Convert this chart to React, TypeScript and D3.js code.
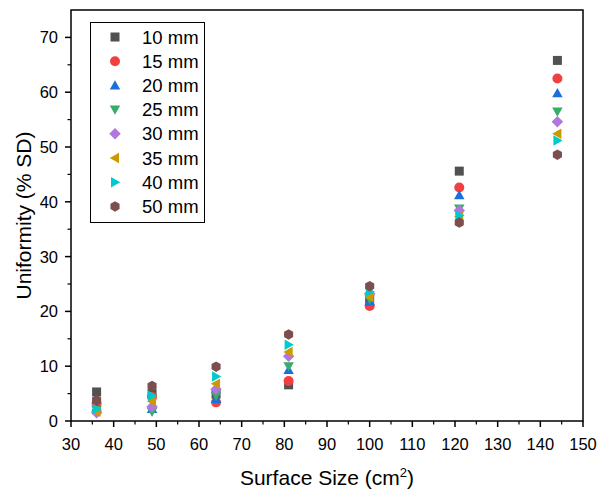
import React from "react";
import * as d3 from "d3";

const surfaceSizes = [36, 49, 64, 81, 100, 121, 144];
const seriesNames = ["10 mm", "15 mm", "20 mm", "25 mm", "30 mm", "35 mm", "40 mm", "50 mm"];
const s10 = [5.3, 5.0, 4.9, 6.6, 22.0, 45.6, 65.8];
const s15 = [3.2, 4.4, 3.4, 7.3, 21.0, 42.6, 62.5];
const s20 = [2.5, 2.2, 4.0, 9.3, 21.8, 41.2, 59.8];
const s25 = [2.0, 1.7, 4.6, 10.0, 22.2, 38.8, 56.5];
const s30 = [1.5, 2.6, 5.8, 11.8, 23.2, 38.4, 54.6];
const s35 = [1.7, 3.6, 6.8, 12.6, 22.6, 37.3, 52.4];
const s40 = [2.2, 4.6, 8.1, 13.9, 23.6, 37.5, 51.2];
const s50 = [3.8, 6.4, 9.9, 15.8, 24.6, 36.2, 48.6];
const seriesValues = [s10, s15, s20, s25, s30, s35, s40, s50];
const colors = ["#515151", "#F14040", "#1A6FDF", "#37AD6B", "#B177DE", "#CC9900", "#00CBCC", "#7D4E4E"];
const xTicks = [30, 40, 50, 60, 70, 80, 90, 100, 110, 120, 130, 140, 150];
const yTicks = [0, 10, 20, 30, 40, 50, 60, 70];

function markerPath(i: number, r: number): string {
  const pts = (arr: [number, number][]) => "M" + arr.map((p) => p.join(",")).join("L") + "Z";
  switch (i) {
    case 0:
      return pts([[-r * 0.9, -r * 0.9], [r * 0.9, -r * 0.9], [r * 0.9, r * 0.9], [-r * 0.9, r * 0.9]]);
    case 1:
      return d3.symbol(d3.symbolCircle, Math.PI * r * r)()!;
    case 2:
      return pts([[0, -r * 1.05], [r * 1.05, r * 0.8], [-r * 1.05, r * 0.8]]);
    case 3:
      return pts([[0, r * 1.05], [r * 1.05, -r * 0.8], [-r * 1.05, -r * 0.8]]);
    case 4:
      return pts([[0, -r * 1.15], [r * 1.15, 0], [0, r * 1.15], [-r * 1.15, 0]]);
    case 5:
      return pts([[-r * 1.05, 0], [r * 0.8, -r * 1.05], [r * 0.8, r * 1.05]]);
    case 6:
      return pts([[r * 1.05, 0], [-r * 0.8, -r * 1.05], [-r * 0.8, r * 1.05]]);
    default: {
      const a: [number, number][] = [];
      for (let k = 0; k < 6; k++) {
        const ang = (Math.PI / 3) * k + Math.PI / 6;
        a.push([r * 1.05 * Math.cos(ang), r * 1.05 * Math.sin(ang)]);
      }
      return pts(a);
    }
  }
}

export default function App() {
  const W = 597, H = 492;
  const left = 71, right = 583, top = 10, bottom = 421;
  const x = d3.scaleLinear().domain([30, 150]).range([left, right]);
  const y = d3.scaleLinear().domain([0, 75]).range([bottom, top]);
  const xMinor = d3.range(35, 150, 10);
  const yMinor = d3.range(5, 75, 10);
  const font = "Arial, 'Liberation Sans', sans-serif";
  const r = 5;
  return (
    <svg width={W} height={H} style={{ position: "absolute", left: 0, top: 0, background: "#fff" }} fontFamily={font}>
      <rect x={0} y={0} width={W} height={H} fill="#fff" />
      {xTicks.map((t) => (
        <g key={"xt" + t}>
          <line x1={x(t)} x2={x(t)} y1={bottom} y2={bottom + 6} stroke="#000" strokeWidth={1.5} />
          <text x={x(t)} y={bottom + 29} fontSize={16.5} textAnchor="middle" fill="#000">{t}</text>
        </g>
      ))}
      {xMinor.map((t) => (
        <line key={"xm" + t} x1={x(t)} x2={x(t)} y1={bottom} y2={bottom + 3.5} stroke="#000" strokeWidth={1.2} />
      ))}
      {yTicks.map((t) => (
        <g key={"yt" + t}>
          <line x1={left - 6} x2={left} y1={y(t)} y2={y(t)} stroke="#000" strokeWidth={1.5} />
          <text x={left - 13} y={y(t) + 6} fontSize={16.5} textAnchor="end" fill="#000">{t}</text>
        </g>
      ))}
      {yMinor.map((t) => (
        <line key={"ym" + t} x1={left - 3.5} x2={left} y1={y(t)} y2={y(t)} stroke="#000" strokeWidth={1.2} />
      ))}
      {seriesValues.map((vals, i) => (
        <g key={"s" + i} fill={colors[i]}>
          {vals.map((v, j) => (
            <path key={j} d={markerPath(i, r)} transform={`translate(${x(surfaceSizes[j])},${y(v)})`} />
          ))}
        </g>
      ))}
      <rect x={left} y={top} width={right - left} height={bottom - top} fill="none" stroke="#000" strokeWidth={1.5} />
      <rect x={90.5} y={22.5} width={114} height={200} fill="#fff" stroke="#000" strokeWidth={1} />
      {seriesNames.map((n, i) => (
        <g key={"l" + i}>
          <path d={markerPath(i, r)} fill={colors[i]} transform={`translate(115,${37 + i * 24.2})`} />
          <text x={142} y={37 + i * 24.2 + 6.5} fontSize={18.5} fill="#000">{n}</text>
        </g>
      ))}
      <text x={(left + right) / 2} y={485} fontSize={21} textAnchor="middle" fill="#000">
        Surface Size (cm<tspan dy={-8} fontSize={13}>2</tspan><tspan dy={8}>)</tspan>
      </text>
      <text transform={`translate(31,${(top + bottom) / 2}) rotate(-90)`} fontSize={21} textAnchor="middle" fill="#000">
        Uniformity (% SD)
      </text>
    </svg>
  );
}
